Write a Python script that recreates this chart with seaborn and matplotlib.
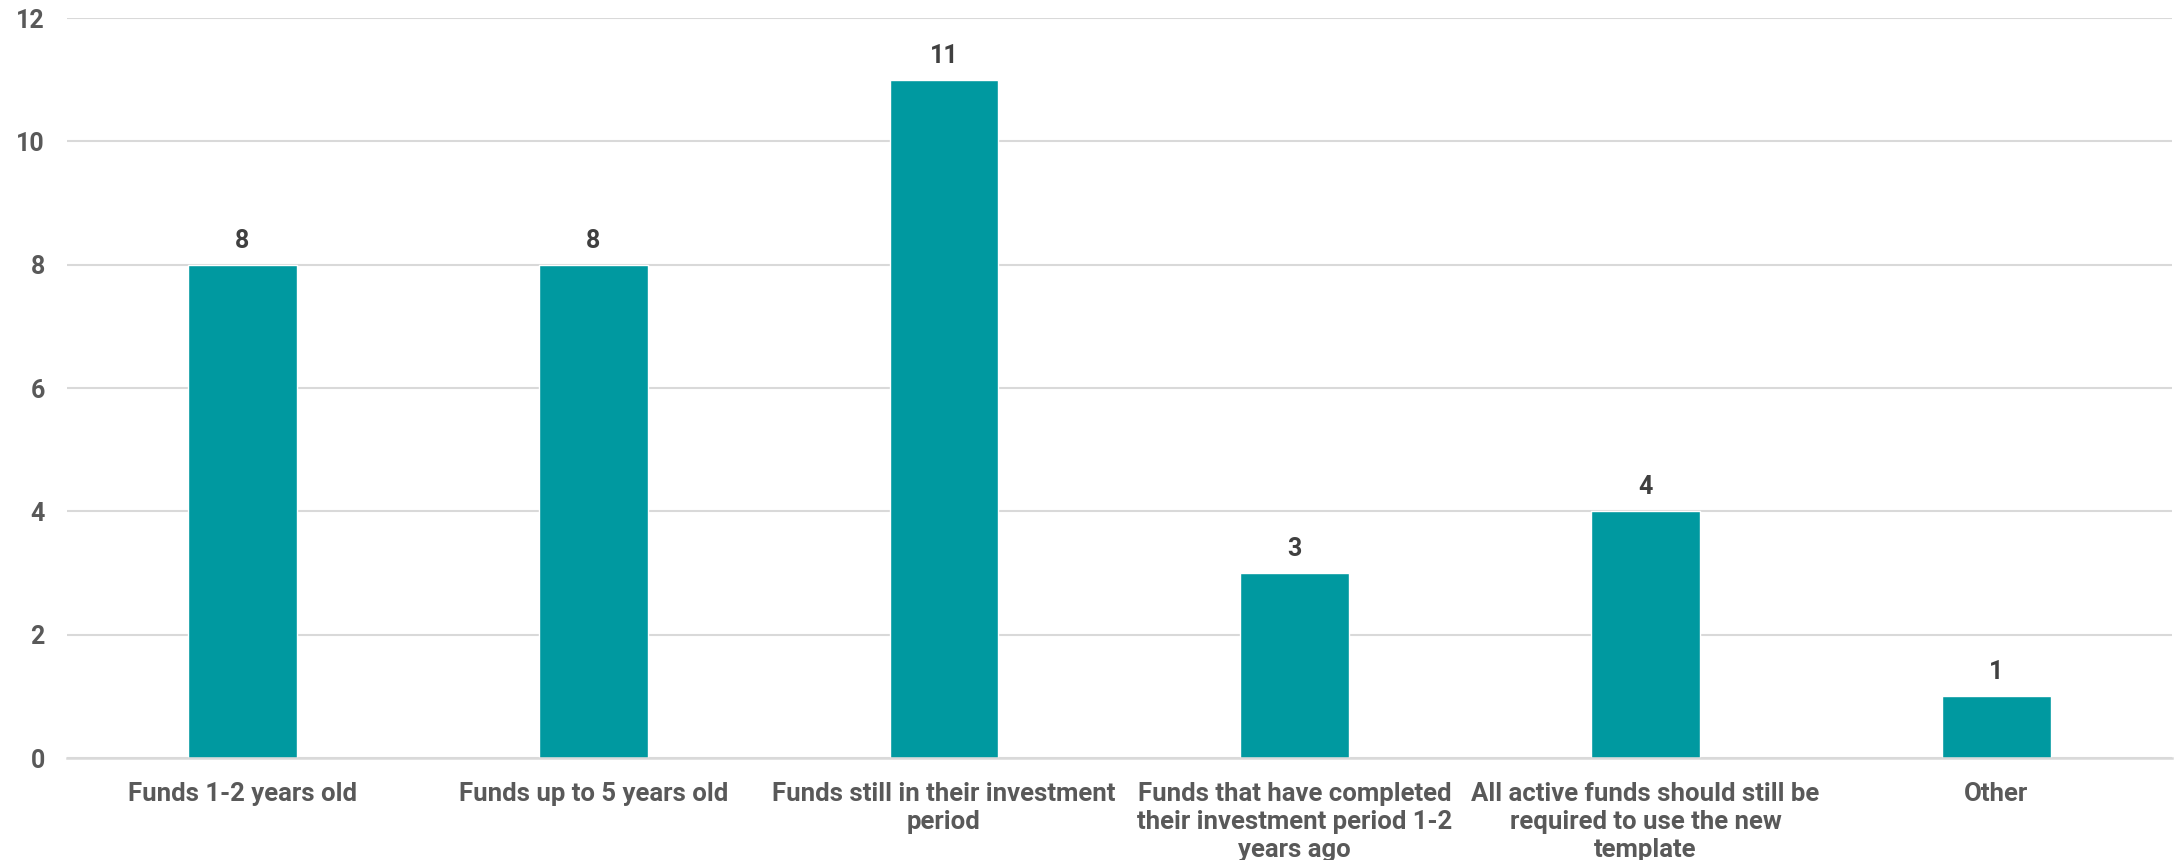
import matplotlib.pyplot as plt
import seaborn as sns
import pandas as pd

categorias = [
    "Funds 1-2 years old",
    "Funds up to 5 years old",
    "Funds still in their investment\nperiod",
    "Funds that have completed\ntheir investment period 1-2\nyears ago",
    "All active funds should still be\nrequired to use the new\ntemplate",
    "Other",
]
valores = [8, 8, 11, 3, 4, 1]
yticks = [0, 2, 4, 6, 8, 10, 12]

sns.set_theme(style="white")
plt.rcParams['font.family'] = ['Roboto', 'DejaVu Sans']

df = pd.DataFrame({"Categoria": categorias, "Valor": valores})

fig = plt.figure(figsize=(21.76, 8.6), dpi=100)
ax = fig.add_axes([0.0308, 0.1186, 0.9672, 0.8604])

sns.barplot(data=df, x="Categoria", y="Valor", ax=ax, color="#0099A0",
            width=0.31, saturation=1)

ax.set_ylim(0, 12)
ax.set_yticks(yticks)
ax.set_xlim(-0.5, len(categorias) - 0.5)
ax.grid(axis='y', color="#D9D9D9", linewidth=1.5)
ax.set_axisbelow(True)
for s in ["top", "right", "left"]:
    ax.spines[s].set_visible(False)
ax.spines["bottom"].set_color("#D9D9D9")
ax.spines["bottom"].set_linewidth(1.8)
ax.set_xlabel("")
ax.set_ylabel("")
ax.tick_params(axis='both', length=0)
ax.tick_params(axis='y', pad=16)
ax.tick_params(axis='x', pad=17)

for lbl in ax.get_yticklabels():
    lbl.set_fontweight('bold')
    lbl.set_fontsize(18)
    lbl.set_color('#595959')
for lbl in ax.get_xticklabels():
    lbl.set_fontweight('bold')
    lbl.set_fontsize(18.5)
    lbl.set_color('#595959')
    lbl.set_linespacing(1.22)
    lbl.set_verticalalignment('top')

for i, v in enumerate(valores):
    ax.annotate(f"{v}", (i, v), xytext=(0, 17), textcoords='offset pixels',
                ha='center', va='baseline', fontsize=18, fontweight='bold',
                color='#404040')

plt.savefig("out.png", dpi=100)
plt.close()
